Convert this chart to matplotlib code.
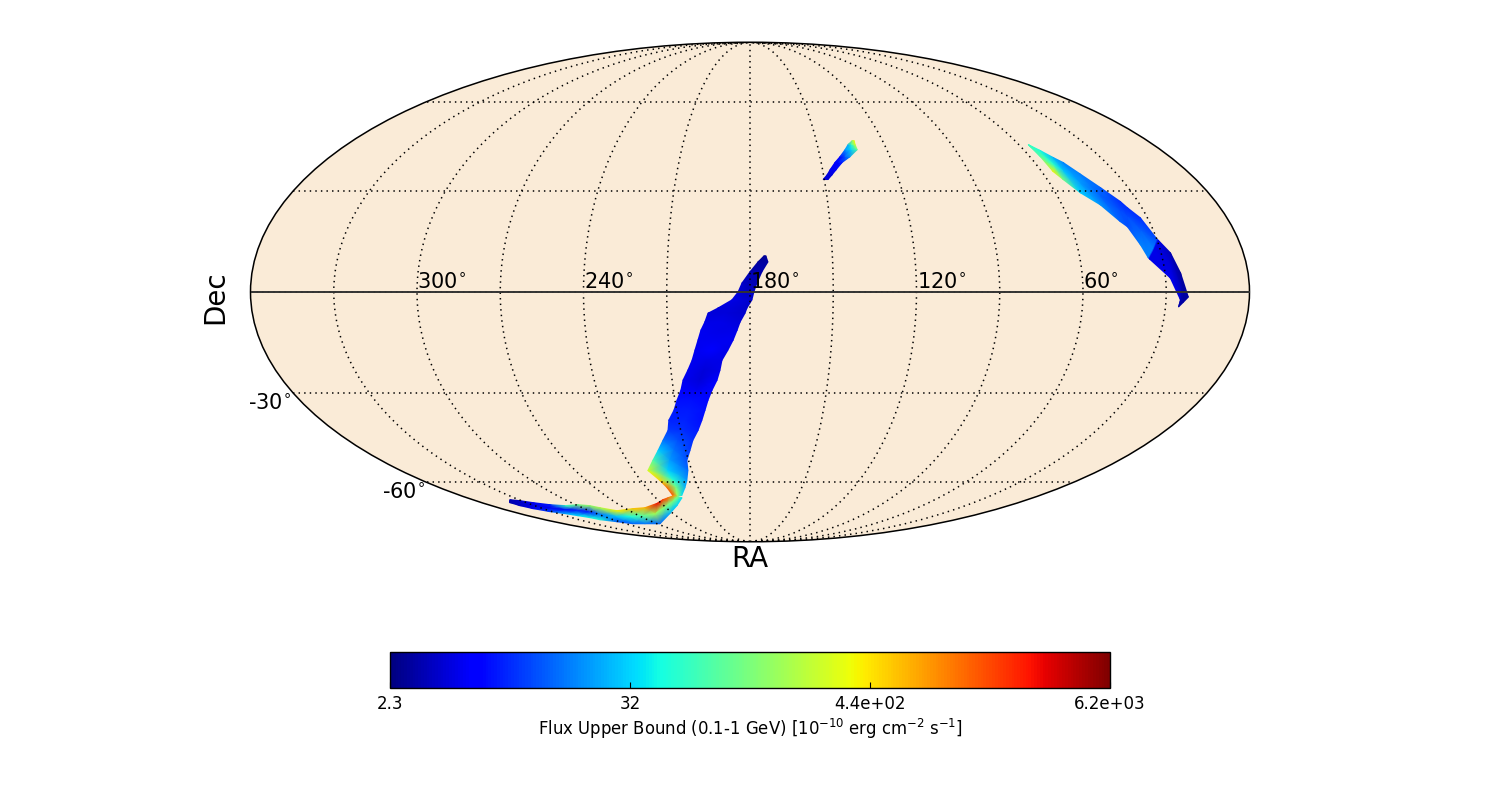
import numpy as np
import matplotlib
matplotlib.use('Agg')
import matplotlib.pyplot as plt
from matplotlib.colors import LogNorm
from matplotlib.cm import ScalarMappable

FLUX_MIN, FLUX_MAX = 2.3, 6200.0
cbar_ticks = [2.3, 32, 445, 6200]
cbar_ticklabels = ['2.3', '32', '4.4e+02', '6.2e+03']
ra_tick_values = [300, 240, 180, 120, 60]
dec_tick_values = [-30, -60]

# main band: edge 1, edge 2, flux at edge 1 / middle / edge 2
main_ra1 = [174.9,177.1,180.0,182.9,184.3,186.5,191.6,195.2,196.4,197.9,199.1,200.4,201.7,203.6,205.8,207.1,209.2,211.1,214.1,215.5,219.0,222.9,227.4,232.6,229.5,228.1,228.0]
main_dec1 = [10.6,8.8,5.9,2.6,0.0,-2.3,-4.7,-6.2,-8.8,-11.2,-14.1,-17.1,-20.1,-23.1,-26.1,-29.2,-32.3,-35.4,-38.6,-41.9,-45.2,-48.6,-52.0,-55.6,-59.3,-62.0,-65.1]
main_ra2 = [174.2,173.5,175.7,177.5,178.6,179.3,181.1,181.8,183.6,184.7,186.2,188.2,190.5,191.4,192.7,194.9,196.8,198.4,200.2,202.5,205.6,208.0,210.8,212.0,214.7,217.7,222.4]
main_dec2 = main_dec1
main_fa = [2.69,2.92,3.15,4.0,4.33,4.68,4.33,4.33,4.68,5.07,5.07,5.07,5.07,5.07,5.07,5.93,6.95,7.52,8.14,9.53,15.3,31.2,80.5,308.0,495.0,1280.0,1500.0]
main_fb = [2.69,2.92,3.41,3.41,3.69,4.33,4.33,4.33,4.68,4.68,5.07,5.48,4.68,4.33,4.33,5.07,6.95,7.52,8.14,8.81,11.2,15.3,21.0,31.2,54.2,119.0,177.0]
main_fc = [2.69,2.92,3.15,3.41,3.69,4.0,4.0,4.0,4.33,4.68,5.07,4.68,4.68,4.68,5.48,6.42,6.42,6.95,6.95,7.52,8.81,9.53,11.2,14.2,19.4,24.6,36.5]

# southern arm
arm_ra1 = [227.3,232.1,236.5,243.2,255.1,264.8,279.3,287.3,291.4,298.3,308.8,317.5,325.7,330.9,335.8]
arm_dec1 = [-65.1,-66.0,-66.8,-68.4,-70.2,-70.6,-71.5,-70.2,-69.3,-68.9,-69.3,-68.9,-68.0,-67.2,-66.8]
arm_ra2 = [223.2,230.8,242.6,267.0,281.5,293.1,302.2,311.7,314.7,319.5,324.8,331.6,337.3,340.2,341.1]
arm_dec2 = [-66.0,-69.3,-72.8,-77.7,-77.7,-77.7,-76.7,-75.7,-74.7,-73.8,-72.8,-71.9,-70.6,-69.3,-68.0]
arm_fa = [860.0,1280.0,1900.0,2810.0,679.0,580.0,391.0,200.0,150.0,120.0,60.0,7.52,5.07,3.69,3.15]
arm_fb = [119.0,119.0,119.0,177.0,80.5,50.0,28.0,15.0,7.52,7.52,6.42,5.07,4.33,3.69,3.15]
arm_fc = [36.5,31.2,24.6,13.1,15.3,13.1,11.2,50.0,45.0,36.5,24.6,11.2,5.07,3.69,3.15]

# north-west band (right of the map)
ne_ra1 = [55.8,53.1,50.3,48.0,45.1,41.0,36.8,35.5,32.7,29.9,29.6,26.6,24.4,22.0]
ne_dec1 = [44.9,42.9,40.6,39.0,35.5,31.1,26.8,24.9,21.9,15.5,15.2,11.5,5.6,-1.5]
ne_ra2 = [55.8,55.5,55.3,53.6,50.3,45.3,40.9,39.1,36.7,35.1,34.8,28.3,24.8,25.3]
ne_dec2 = [44.5,40.9,36.1,33.6,29.5,25.8,20.7,19.2,13.8,10.0,9.7,4.1,-2.3,-4.4]
ne_fa = [63.5,46.3,24.6,16.6,16.6,13.1,8.81,8.81,8.81,11.2,4.68,3.41,2.92,2.92]
ne_fb = [63.5,63.5,54.2,28.8,21.0,13.1,11.2,11.2,13.1,16.6,4.68,4.33,3.41,2.92]
ne_fc = [63.5,80.5,391.0,119.0,31.2,19.4,13.1,11.2,16.6,16.6,4.68,5.07,4.33,2.92]

# small northern band
sm_ra1 = [150.5,148.5,146.9,144.2,141.4,138.3,136.2,133.7]
sm_dec1 = [33.6,35.1,36.7,39.0,40.9,43.2,44.9,46.2]
sm_ra2 = [148.5,146.5,144.4,141.2,137.1,133.0,133.1,132.8]
sm_dec2 = sm_dec1
sm_fa = [4.33,4.33,5.07,5.48,5.93,19.4,24.6,177.0]
sm_fb = [4.33,4.33,5.07,5.93,11.2,31.2,54.2,263.0]
sm_fc = [4.33,4.33,5.93,7.52,21.0,80.5,263.0,391.0]


def to_lon(ra):
    return np.radians(180.0 - np.asarray(ra, float))


plt.rcParams['font.family'] = 'DejaVu Sans'
plt.rcParams['mathtext.default'] = 'regular'
fig = plt.figure(figsize=(15, 8), dpi=100)
ax = fig.add_axes([250.5 / 1500, 258 / 800, 999 / 1500, 500 / 800], projection='mollweide')
ax.set_facecolor('#FAEBD7')
norm = LogNorm(FLUX_MIN, FLUX_MAX)

bands = [
    (main_ra1, main_dec1, main_ra2, main_dec2, main_fa, main_fb, main_fc),
    (arm_ra1, arm_dec1, arm_ra2, arm_dec2, arm_fa, arm_fb, arm_fc),
    (ne_ra1, ne_dec1, ne_ra2, ne_dec2, ne_fa, ne_fb, ne_fc),
    (sm_ra1, sm_dec1, sm_ra2, sm_dec2, sm_fa, sm_fb, sm_fc),
]
for r1, d1, r2, d2, fa, fb, fc in bands:
    r1, d1, r2, d2 = [np.asarray(v, float) for v in (r1, d1, r2, d2)]
    lon = np.column_stack([to_lon(r1), to_lon((r1 + r2) / 2), to_lon(r2)])
    lat = np.radians(np.column_stack([d1, (d1 + d2) / 2, d2]))
    ax.pcolormesh(lon, lat, np.column_stack([fa, fb, fc]), cmap='jet', norm=norm,
                  shading='gouraud', zorder=2)

ax.set_longitude_grid(30)
ax.set_latitude_grid(30)
ax.set_longitude_grid_ends(90)
ax.grid(True, color='k', linestyle=(0, (0.95, 2.7)), linewidth=1.1, alpha=1)
ax.set_axisbelow(False)
ax.xaxis.set_ticklabels([])
ax.yaxis.set_ticklabels([])
ax.plot([-np.pi, np.pi], [0, 0], color='#333333', lw=1.4, zorder=4)
for s in ax.spines.values():
    s.set_linewidth(1.1)

for ra in ra_tick_values:
    ax.annotate(r'%d$^{\circ}$' % ra, xy=(np.radians(180 - ra), 0), xytext=(0.2, 0),
                textcoords='offset points', fontsize=15, ha='left', va='bottom', zorder=5)
for dec in dec_tick_values:
    ax.annotate(r'%d$^{\circ}$' % dec, xy=(-np.pi, np.radians(dec)), xytext=(-1.1, 0),
                textcoords='offset points', fontsize=15, ha='right', va='top', zorder=5)

ax.set_xlabel('RA', fontsize=20)
ax.xaxis.set_label_coords(0.5, -0.006)
ax.set_ylabel('Dec', fontsize=20)
ax.yaxis.set_label_coords(-0.021, 0.49)

cax = fig.add_axes([390 / 1500, 112 / 800, 720 / 1500, 36 / 800])
cb = fig.colorbar(ScalarMappable(norm=norm, cmap='jet'), cax=cax, orientation='horizontal')
cb.set_ticks(cbar_ticks, labels=cbar_ticklabels)
cb.minorticks_off()
cax.tick_params(axis='x', which='major', direction='in', length=4, width=0.8, top=False, labelsize=12, pad=5)
cb.set_label(r'Flux Upper Bound (0.1-1 GeV) [$10^{-10}$ erg cm$^{-2}$ s$^{-1}$]', fontsize=11.9, labelpad=2.5)
cb.outline.set_linewidth(1.0)

fig.savefig('out.png', dpi=100)
